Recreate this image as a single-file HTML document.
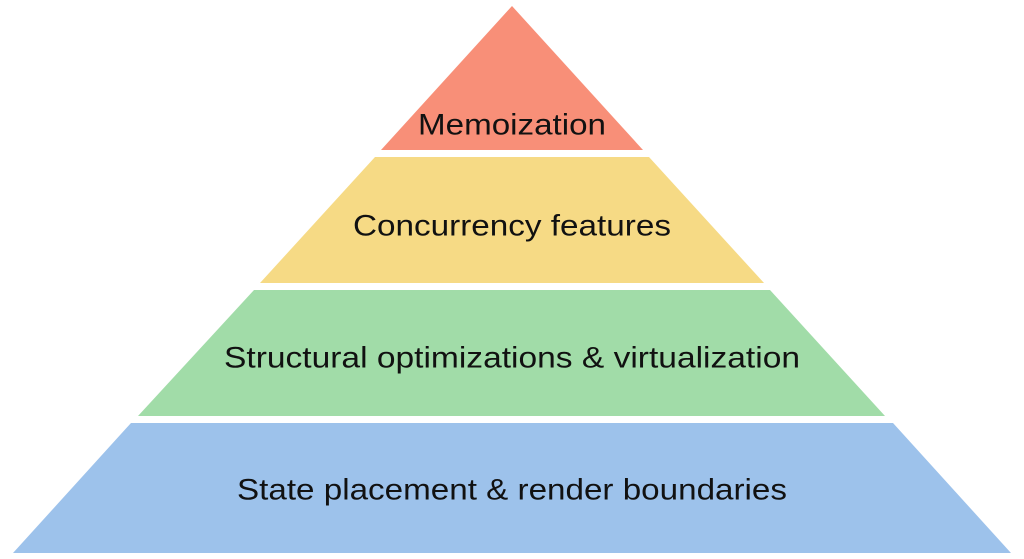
<!DOCTYPE html>
<html><head><style>
html,body{margin:0;padding:0;background:#fff;}
svg{display:block;}
text{font-family:"Liberation Sans",sans-serif;font-size:30px;fill:#111;text-anchor:middle;dominant-baseline:central;}
</style></head><body>
<svg width="1024" height="559" viewBox="0 0 1024 559">
<polygon points="512,6 643,150 381,150" fill="#f88f78"/>
<polygon points="375,157 649,157 764,283 260,283" fill="#f6da85"/>
<polygon points="254,290 770,290 885,416 138,416" fill="#a1dca8"/>
<polygon points="131,423 893,423 1011,553 13,553" fill="#9dc2eb"/>
<text x="512" y="125" textLength="188" lengthAdjust="spacingAndGlyphs">Memoization</text>
<text x="512" y="226" textLength="318" lengthAdjust="spacingAndGlyphs">Concurrency features</text>
<text x="512" y="358" textLength="576" lengthAdjust="spacingAndGlyphs">Structural optimizations &amp; virtualization</text>
<text x="512" y="490" textLength="550" lengthAdjust="spacingAndGlyphs">State placement &amp; render boundaries</text>
</svg>
</body></html>
